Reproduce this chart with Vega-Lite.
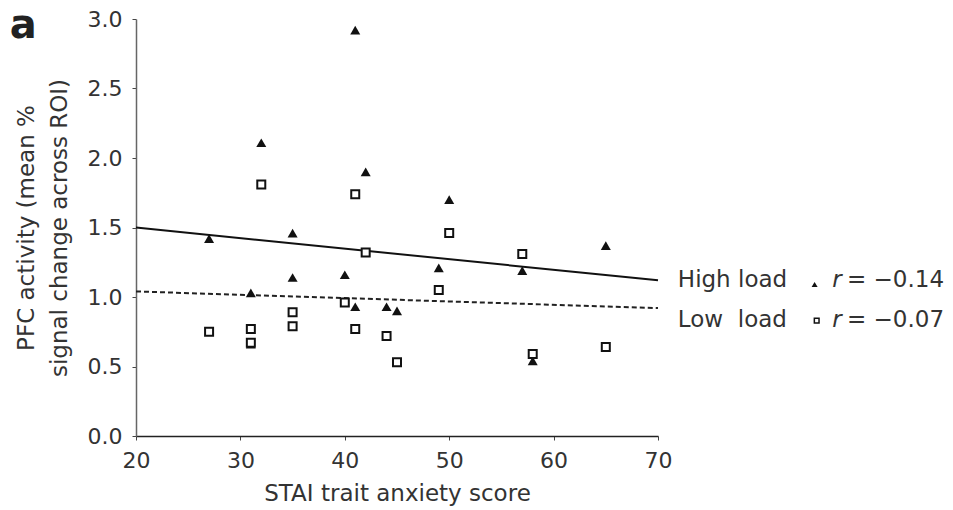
{
  "$schema": "https://vega.github.io/schema/vega-lite/v6.json",
  "width": 522,
  "height": 417,
  "autosize": {"type": "none"},
  "padding": {"left": 136, "top": 19, "right": 295, "bottom": 74},
  "background": "white",
  "config": {
    "view": {"stroke": null},
    "font": "DejaVu Sans",
    "axis": {"grid": false, "labelColor": "#333", "titleColor": "#333", "tickColor": "#444", "domainColor": "#444", "labelFlush": false}
  },
  "datasets": {
    "points": [
      {"anxiety": 41, "pfc": 2.92, "load": "High"},
      {"anxiety": 32, "pfc": 2.11, "load": "High"},
      {"anxiety": 42, "pfc": 1.90, "load": "High"},
      {"anxiety": 50, "pfc": 1.70, "load": "High"},
      {"anxiety": 27, "pfc": 1.42, "load": "High"},
      {"anxiety": 35, "pfc": 1.46, "load": "High"},
      {"anxiety": 35, "pfc": 1.14, "load": "High"},
      {"anxiety": 40, "pfc": 1.16, "load": "High"},
      {"anxiety": 31, "pfc": 1.03, "load": "High"},
      {"anxiety": 41, "pfc": 0.93, "load": "High"},
      {"anxiety": 44, "pfc": 0.93, "load": "High"},
      {"anxiety": 45, "pfc": 0.90, "load": "High"},
      {"anxiety": 49, "pfc": 1.21, "load": "High"},
      {"anxiety": 57, "pfc": 1.19, "load": "High"},
      {"anxiety": 65, "pfc": 1.37, "load": "High"},
      {"anxiety": 58, "pfc": 0.54, "load": "High"},
      {"anxiety": 31, "pfc": 0.66, "load": "High"},
      {"anxiety": 32, "pfc": 1.81, "load": "Low"},
      {"anxiety": 41, "pfc": 1.74, "load": "Low"},
      {"anxiety": 42, "pfc": 1.32, "load": "Low"},
      {"anxiety": 50, "pfc": 1.46, "load": "Low"},
      {"anxiety": 57, "pfc": 1.31, "load": "Low"},
      {"anxiety": 49, "pfc": 1.05, "load": "Low"},
      {"anxiety": 40, "pfc": 0.96, "load": "Low"},
      {"anxiety": 27, "pfc": 0.75, "load": "Low"},
      {"anxiety": 31, "pfc": 0.77, "load": "Low"},
      {"anxiety": 31, "pfc": 0.67, "load": "Low"},
      {"anxiety": 35, "pfc": 0.89, "load": "Low"},
      {"anxiety": 35, "pfc": 0.79, "load": "Low"},
      {"anxiety": 41, "pfc": 0.77, "load": "Low"},
      {"anxiety": 44, "pfc": 0.72, "load": "Low"},
      {"anxiety": 45, "pfc": 0.53, "load": "Low"},
      {"anxiety": 58, "pfc": 0.59, "load": "Low"},
      {"anxiety": 65, "pfc": 0.64, "load": "Low"}
    ],
    "fits": [
      {"anxiety": 20, "pfc": 1.50, "load": "High"},
      {"anxiety": 70, "pfc": 1.12, "load": "High"},
      {"anxiety": 20, "pfc": 1.04, "load": "Low"},
      {"anxiety": 70, "pfc": 0.92, "load": "Low"}
    ],
    "legend": [
      {"load": "High", "label": "High load", "stat": "= \u22120.14", "tx": 71.9, "ty": 1.07, "sx": 85.0, "sy": 1.09, "rx": 86.7, "ex": 88.1},
      {"load": "Low", "label": "Low\u00a0 load", "stat": "= \u22120.07", "tx": 71.9, "ty": 0.785, "sx": 85.2, "sy": 0.83, "rx": 86.7, "ex": 88.1}
    ],
    "panel": [
      {"tag": "a", "x": 7.9, "y": 2.865}
    ]
  },
  "layer": [
    {
      "data": {"name": "fits"},
      "transform": [{"filter": "datum.load === 'High'"}],
      "mark": {"type": "line", "color": "#111", "strokeWidth": 2},
      "encoding": {
        "x": {"field": "anxiety", "type": "quantitative", "scale": {"domain": [20, 70], "nice": false, "zero": false},
          "axis": {"title": "STAI trait anxiety score", "values": [20, 30, 40, 50, 60, 70], "labelFontSize": 22, "titleFontSize": 23, "titleFontWeight": "normal", "tickSize": 4, "labelPadding": 10, "titlePadding": 11, "domainColor": "#222", "domainWidth": 1.5}},
        "y": {"field": "pfc", "type": "quantitative", "scale": {"domain": [0, 3], "nice": false, "zero": false},
          "axis": {"title": ["PFC activity (mean %", "signal change across ROI)"], "values": [0, 0.5, 1, 1.5, 2, 2.5, 3], "format": ".1f", "labelFontSize": 22, "titleFontSize": 23, "titleFontWeight": "normal", "titleLineHeight": 33, "tickSize": 4, "labelPadding": 10, "titlePadding": 16, "domainColor": "#666", "domainWidth": 1.5}}
      }
    },
    {
      "data": {"name": "fits"},
      "transform": [{"filter": "datum.load === 'Low'"}],
      "mark": {"type": "line", "color": "#222", "strokeWidth": 2, "strokeDash": [5, 3]},
      "encoding": {
        "x": {"field": "anxiety", "type": "quantitative"},
        "y": {"field": "pfc", "type": "quantitative"}
      }
    },
    {
      "data": {"name": "points"},
      "transform": [{"filter": "datum.load === 'High'"}],
      "mark": {"type": "point", "shape": "triangle-up", "filled": true, "color": "#111", "size": 100, "opacity": 1},
      "encoding": {
        "x": {"field": "anxiety", "type": "quantitative"},
        "y": {"field": "pfc", "type": "quantitative"}
      }
    },
    {
      "data": {"name": "points"},
      "transform": [{"filter": "datum.load === 'Low'"}],
      "mark": {"type": "point", "shape": "square", "filled": false, "fill": "white", "fillOpacity": 1, "stroke": "#111", "strokeWidth": 2, "size": 64, "opacity": 1},
      "encoding": {
        "x": {"field": "anxiety", "type": "quantitative"},
        "y": {"field": "pfc", "type": "quantitative"}
      }
    },
    {
      "data": {"name": "legend"},
      "mark": {"type": "text", "align": "left", "baseline": "alphabetic", "fontSize": 23, "color": "#333"},
      "encoding": {
        "x": {"field": "tx", "type": "quantitative"},
        "y": {"field": "ty", "type": "quantitative"},
        "text": {"field": "label"}
      }
    },
    {
      "data": {"name": "legend"},
      "mark": {"type": "text", "align": "left", "baseline": "alphabetic", "fontSize": 23, "fontStyle": "italic", "color": "#333"},
      "encoding": {
        "x": {"field": "rx", "type": "quantitative"},
        "y": {"field": "ty", "type": "quantitative"},
        "text": {"value": "r"}
      }
    },
    {
      "data": {"name": "legend"},
      "mark": {"type": "text", "align": "left", "baseline": "alphabetic", "fontSize": 23, "color": "#333"},
      "encoding": {
        "x": {"field": "ex", "type": "quantitative"},
        "y": {"field": "ty", "type": "quantitative"},
        "text": {"field": "stat"}
      }
    },
    {
      "data": {"name": "legend"},
      "transform": [{"filter": "datum.load === 'High'"}],
      "mark": {"type": "point", "shape": "triangle-up", "filled": true, "color": "#111", "size": 36, "opacity": 1},
      "encoding": {
        "x": {"field": "sx", "type": "quantitative"},
        "y": {"field": "sy", "type": "quantitative"}
      }
    },
    {
      "data": {"name": "legend"},
      "transform": [{"filter": "datum.load === 'Low'"}],
      "mark": {"type": "point", "shape": "square", "filled": false, "fill": "white", "fillOpacity": 1, "stroke": "#111", "strokeWidth": 1.5, "size": 22, "opacity": 1},
      "encoding": {
        "x": {"field": "sx", "type": "quantitative"},
        "y": {"field": "sy", "type": "quantitative"}
      }
    },
    {
      "data": {"name": "panel"},
      "mark": {"type": "text", "align": "left", "baseline": "alphabetic", "fontSize": 40, "fontWeight": "bold", "color": "#222"},
      "encoding": {
        "x": {"field": "x", "type": "quantitative"},
        "y": {"field": "y", "type": "quantitative"},
        "text": {"field": "tag"}
      }
    }
  ]
}
